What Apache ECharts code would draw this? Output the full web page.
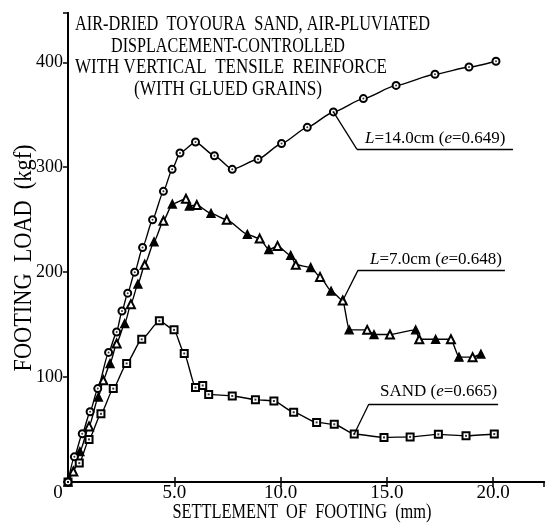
<!DOCTYPE html>
<html>
<head>
<meta charset="utf-8">
<script src="https://cdn.jsdelivr.net/npm/echarts@6/dist/echarts.min.js"></script>
<style>
html, body { margin: 0; padding: 0; background: #fff; }
#chart { width: 550px; height: 527px; }
</style>
</head>
<body>
<div id="chart"></div>
<script>
// L = 14.0cm (circles)
var l14X = [0, 0.3, 0.67, 1.04, 1.4, 1.91, 2.29, 2.54, 2.81, 3.14, 3.51, 3.98, 4.49, 4.9, 5.27, 6.0,
	6.89, 7.73, 8.94, 10.05, 11.26, 12.49, 13.9, 15.44, 17.27, 18.87, 20.14];
var l14Y = [0, 24, 46, 67, 89, 123.5, 143, 163, 180, 200, 223.5, 250, 277, 298, 313.6, 324,
	311, 298, 307.6, 322.6, 338, 352.7, 365.4, 378, 388.6, 395.5, 401];
// L = 7.0cm (triangles)
var l7X = [0, 0.25, 0.56, 0.99, 1.43, 1.66, 1.98, 2.29, 2.67, 2.96, 3.29, 3.61, 4.05, 4.49, 4.91, 5.55,
	5.71, 6.06, 6.73, 7.47, 8.44, 9.02, 9.45, 9.86, 10.48, 10.72, 11.42, 11.86, 12.38, 12.93, 13.23,
	14.08, 14.4, 15.15, 16.36, 16.53, 17.3, 18.02, 18.4, 19.04, 19.43];
var l7Y = [0, 10, 29, 53, 81, 97, 113, 132, 151, 169.5, 188.6, 207, 229, 249, 265, 270,
	263, 264, 256, 250, 236, 232, 221.5, 225, 216, 207, 204.5, 195.5, 182, 173, 145,
	145, 140.6, 140.6, 145, 136, 136, 136, 119, 119, 122];
// sand only (squares)
var sandX = [0, 0.53, 0.99, 1.55, 2.13, 2.76, 3.47, 4.3, 4.99, 5.47, 6.0, 6.34, 6.62, 7.73, 8.82,
	9.69, 10.62, 11.7, 12.53, 13.47, 14.87, 16.1, 17.43, 18.73, 20.06];
var sandY = [0, 18, 40.6, 65, 89, 113, 136, 153.6, 145, 122.5, 90, 92, 83.5, 82, 78.5,
	77.2, 66.5, 56.8, 55, 45.7, 42.5, 43, 45.4, 44, 45.7];

var xTickLabels = ['0', '5.0', '10.0', '15.0', '20.0'];
var yTickLabels = ['0', '100', '200', '300', '400'];

var serif = '"Liberation Serif"';
var ctx = document.createElement('canvas').getContext('2d');

function pairs(xs, ys) {
	return xs.map(function(x, i) { return [x, ys[i]]; });
}

// stretch a text so it spans the given width
function txt(text, x, y, size, width, align, rot) {
	var font = size + 'px ' + serif;
	ctx.font = font;
	return {
		type : 'text',
		x : x,
		y : y,
		rotation : rot || 0,
		scaleX : width / ctx.measureText(text).width,
		style : {
			text : text,
			font : font,
			fill : '#000',
			textAlign : align || 'left',
			textVerticalAlign : 'middle'
		}
	};
}

function tag(text, x, y) {
	var rich = { i : { fontStyle : 'italic', fontSize : 17, fontFamily : serif, fill : '#000' } };
	return {
		type : 'text',
		x : x,
		y : y,
		style : {
			text : text,
			fontSize : 17,
			fontFamily : serif,
			fill : '#000',
			rich : rich,
			textAlign : 'left',
			textVerticalAlign : 'middle'
		}
	};
}

function leader(xs, ys, k, bend, end) {
	var p = [xs[k], ys[k]];
	return {
		silent : true,
		symbol : 'none',
		label : { show : false },
		lineStyle : { color : '#000', width : 1.3, type : 'solid' },
		data : [ [ { coord : p }, { coord : bend } ], [ { coord : bend }, { coord : [ end, bend[1] ] } ] ]
	};
}

function curve(xs, ys, symbol, size, mark) {
	return {
		type : 'line',
		data : pairs(xs, ys),
		symbol : symbol,
		symbolSize : size,
		smooth : 0.2,
		smoothMonotone : 'x',
		showAllSymbol : true,
		lineStyle : { color : '#000', width : 1.4 },
		itemStyle : { color : '#000', borderColor : '#000', borderWidth : 1.4 },
		markLine : mark,
		z : 3
	};
}

function dots(xs, ys, symbol) {
	return {
		type : 'scatter',
		data : pairs(xs, ys),
		symbol : symbol,
		symbolSize : 2,
		itemStyle : { color : '#000' },
		silent : true,
		z : 4
	};
}

var frame = { show : true, lineStyle : { color : '#000', width : 2 } };

var option = {
	animation : false,
	grid : { left : 68, right : 6, top : 13, bottom : 45 },
	xAxis : [ {
		type : 'value', min : 0, max : 22.4, interval : 5,
		axisLine : frame,
		axisTick : { inside : true, length : 5, lineStyle : { color : '#000', width : 1.5 } },
		splitLine : { show : false },
		axisLabel : {
			showMaxLabel : false, margin : 2, color : '#000', fontSize : 19, fontFamily : serif,
			formatter : function(v) {
				if (v % 5) return '';
				return v === 0 ? '{z|0}' : xTickLabels[v / 5];
			},
			rich : { z : { padding : [ 0, 20, 0, 0 ], fontSize : 19, fontFamily : serif, color : '#000' } }
		}
	}, {
		type : 'value', position : 'top', min : 0, max : 22.4, interval : 5,
		axisLine : frame,
		axisTick : { inside : true, length : 5, lineStyle : { color : '#000', width : 1.5 } },
		splitLine : { show : false },
		axisLabel : { show : false }
	} ],
	yAxis : [ {
		type : 'value', min : 0, max : 447, interval : 100,
		axisLine : frame,
		axisTick : { inside : false, length : 4, lineStyle : { color : '#000', width : 1.5 } },
		splitLine : { show : false },
		axisLabel : {
			showMinLabel : false, showMaxLabel : false, margin : 5, color : '#000', fontSize : 18, fontFamily : serif,
			formatter : function(v) { return v % 100 ? '' : yTickLabels[v / 100]; }
		}
	}, {
		type : 'value', position : 'right', min : 0, max : 447, interval : 100,
		axisLine : frame,
		axisTick : { inside : true, length : 5, lineStyle : { color : '#000', width : 1.5 } },
		splitLine : { show : false },
		axisLabel : { show : false }
	} ],
	series : [
		curve(sandX, sandY, 'emptyRect', 7, leader(sandX, sandY, 19, [ 14.16, 74.3 ], 20.24)),
		dots(sandX, sandY, 'rect'),
		curve(l7X, l7Y, function(v, p) { return p.dataIndex % 2 ? 'emptyTriangle' : 'triangle'; }, 8,
			leader(l7X, l7Y, 29, [ 13.65, 201.9 ], 20.56)),
		curve(l14X, l14Y, 'emptyCircle', 7, leader(l14X, l14Y, 21, [ 13.6, 317.1 ], 20.94)),
		dots(l14X, l14Y, 'circle')
	],
	graphic : [
		txt('AIR-DRIED  TOYOURA  SAND, AIR-PLUVIATED', 75, 25, 20, 355),
		txt('DISPLACEMENT-CONTROLLED', 111, 46.5, 20, 234),
		txt('WITH VERTICAL  TENSILE  REINFORCE', 75, 68, 20, 312),
		txt('(WITH GLUED GRAINS)', 134, 89.5, 20, 188),
		txt('SETTLEMENT  OF  FOOTING  (mm)', 302, 512, 22, 259, 'center'),
		txt('FOOTING  LOAD  (kgf)', 24, 258, 25, 227, 'center', Math.PI / 2),
		tag('{i|L}=14.0cm ({i|e}=0.649)', 365, 139),
		tag('{i|L}=7.0cm ({i|e}=0.648)', 370, 260),
		tag('SAND ({i|e}=0.665)', 380, 392)
	]
};

var myChart = echarts.init(document.getElementById('chart'));
myChart.setOption(option);
</script>
</body>
</html>
